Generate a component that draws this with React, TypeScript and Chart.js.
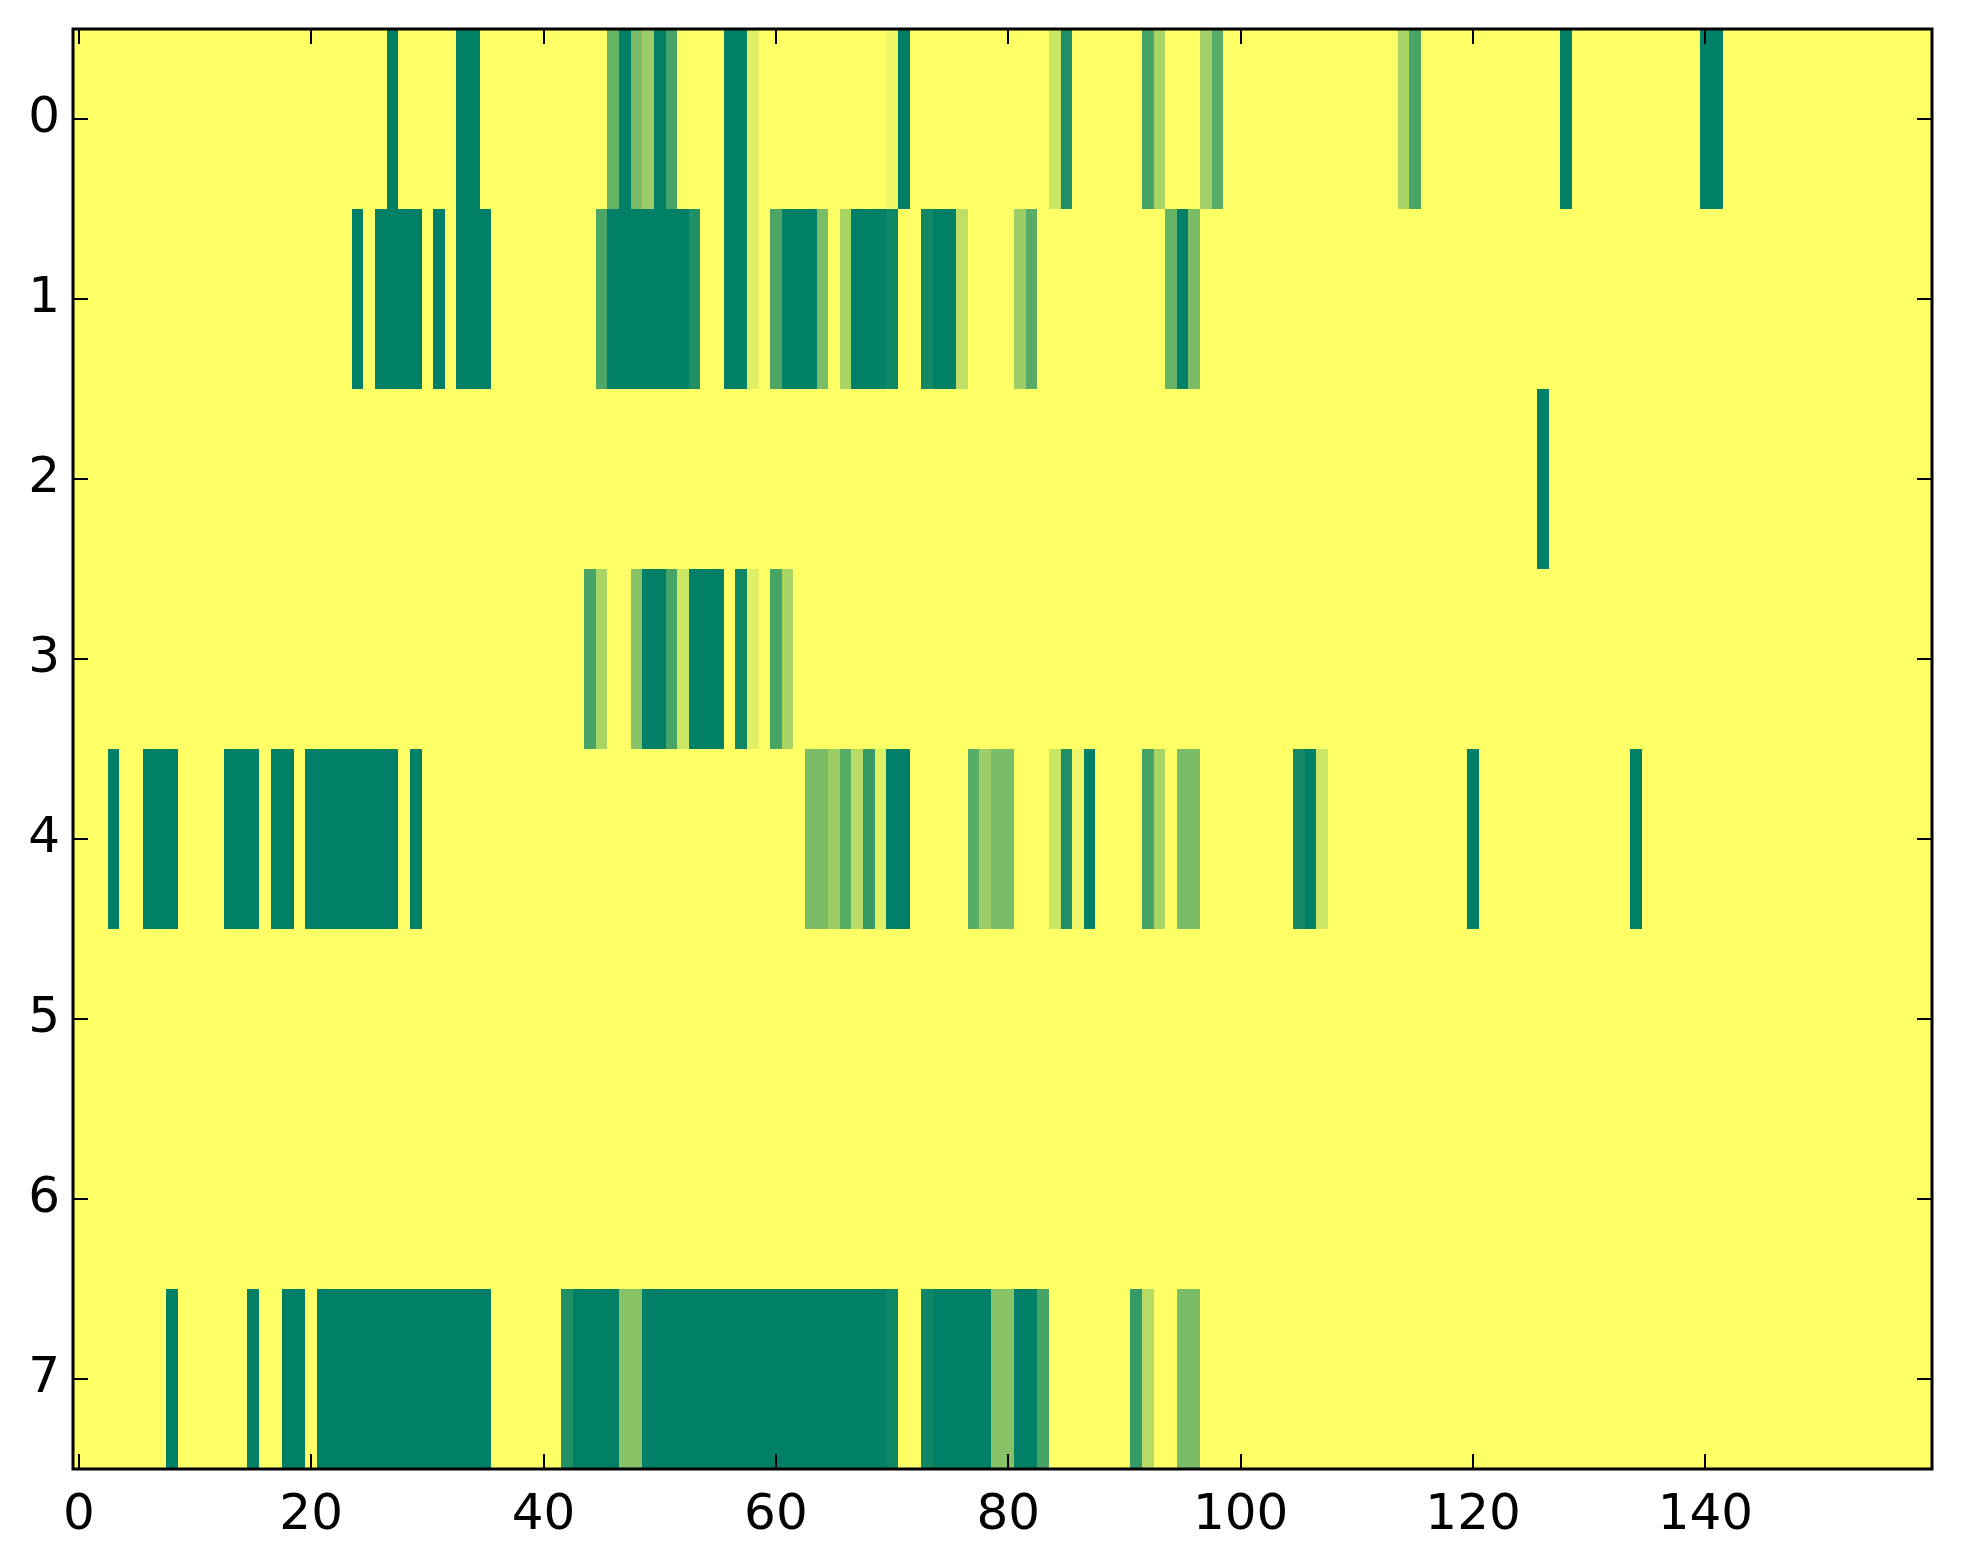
import React, { useEffect, useRef } from "react";
import { Chart, registerables } from "chart.js";

Chart.register(...registerables);

// ---- data ----
const columnCount = 160;
const rowLabels = [0, 1, 2, 3, 4, 5, 6, 7];
const xTickValues = [0, 20, 40, 60, 80, 100, 120, 140];
const yTickValues = [0, 1, 2, 3, 4, 5, 6, 7];

// non-zero cells of each row: [column, value]
const row0: [number, number][] = [
  [27, 1], [33, 1], [34, 1], [46, 0.6], [47, 1], [48, 0.52], [49, 0.39], [50, 1], [51, 0.72],
  [56, 1], [57, 1], [58, 0.12], [70, 0.06], [71, 1], [84, 0.2], [85, 0.87], [92, 0.72], [93, 0.34],
  [97, 0.37], [98, 0.65], [114, 0.34], [115, 0.72], [128, 1], [140, 1], [141, 1],
];
const row1: [number, number][] = [
  [24, 1], [26, 1], [27, 1], [28, 1], [29, 1], [31, 1], [33, 1], [34, 1], [35, 1],
  [45, 0.7], [46, 1], [47, 1], [48, 1], [49, 1], [50, 1], [51, 1], [52, 1], [53, 0.87],
  [56, 1], [57, 1], [58, 0.12], [60, 0.7], [61, 1], [62, 1], [63, 1], [64, 0.52],
  [66, 0.34], [67, 1], [68, 1], [69, 1], [70, 0.94], [73, 0.93], [74, 1], [75, 1], [76, 0.25],
  [81, 0.39], [82, 0.65], [94, 0.6], [95, 1], [96, 0.52],
];
const row2: [number, number][] = [[126, 1]];
const row3: [number, number][] = [
  [44, 0.72], [45, 0.34], [48, 0.47], [49, 1], [50, 1], [51, 0.72], [52, 0.2], [53, 1], [54, 1],
  [55, 1], [57, 0.94], [58, 0.12], [60, 0.72], [61, 0.34],
];
const row4: [number, number][] = [
  [3, 1], [6, 1], [7, 1], [8, 1], [13, 1], [14, 1], [15, 1], [17, 1], [18, 1],
  [20, 1], [21, 1], [22, 1], [23, 1], [24, 1], [25, 1], [26, 1], [27, 1], [29, 1],
  [63, 0.52], [64, 0.52], [65, 0.39], [66, 0.65], [67, 0.28], [68, 0.79], [69, 0.12], [70, 1], [71, 1],
  [77, 0.65], [78, 0.39], [79, 0.52], [80, 0.52], [84, 0.2], [85, 0.87], [86, 0.07], [87, 1],
  [92, 0.72], [93, 0.34], [95, 0.52], [96, 0.52], [105, 0.93], [106, 1], [107, 0.2], [120, 1], [134, 1],
];
const row5: [number, number][] = [];
const row6: [number, number][] = [];
const row7: [number, number][] = [
  [8, 1], [15, 1], [18, 1], [19, 1],
  [21, 1], [22, 1], [23, 1], [24, 1], [25, 1], [26, 1], [27, 1], [28, 1], [29, 1], [30, 1],
  [31, 1], [32, 1], [33, 1], [34, 1], [35, 1],
  [42, 0.87], [43, 1], [44, 1], [45, 1], [46, 1], [47, 0.47], [48, 0.47],
  [49, 1], [50, 1], [51, 1], [52, 1], [53, 1], [54, 1], [55, 1], [56, 1], [57, 1], [58, 1],
  [59, 1], [60, 1], [61, 1], [62, 1], [63, 1], [64, 1], [65, 1], [66, 1], [67, 1], [68, 1], [69, 1],
  [70, 0.94], [73, 0.94], [74, 1], [75, 1], [76, 1], [77, 1], [78, 1], [79, 0.47], [80, 0.47],
  [81, 1], [82, 1], [83, 0.72], [91, 0.79], [92, 0.28], [95, 0.52], [96, 0.52],
];
const rowCells = [row0, row1, row2, row3, row4, row5, row6, row7];

// matplotlib "summer_r" colormap
function summerR(v: number): string {
  const t = 1 - Math.max(0, Math.min(1, v));
  const r = Math.round(t * 255);
  const g = Math.round((0.5 + 0.5 * t) * 255);
  const b = Math.round(0.4 * 255);
  return `rgb(${r},${g},${b})`;
}

function buildPoints() {
  const pts: { x: number; y: number; v: number }[] = [];
  rowLabels.forEach((row, ri) => {
    const lookup = new Map<number, number>(rowCells[ri]);
    for (let c = 0; c < columnCount; c++) {
      pts.push({ x: c, y: row, v: lookup.get(c) ?? 0 });
    }
  });
  return pts;
}

const heatmapPlugin = {
  id: "heatmapCells",
  beforeDatasetsDraw(chart: any) {
    const ctx = chart.ctx;
    const xs = chart.scales.x;
    const ys = chart.scales.y;
    const data = chart.data.datasets[0].data as any[];
    ctx.save();
    for (const p of data) {
      const l = Math.round(xs.getPixelForValue(p.x - 0.5));
      const r = Math.round(xs.getPixelForValue(p.x + 0.5));
      const t = Math.round(ys.getPixelForValue(p.y - 0.5));
      const b = Math.round(ys.getPixelForValue(p.y + 0.5));
      ctx.fillStyle = summerR(p.v);
      ctx.fillRect(Math.min(l, r), Math.min(t, b), Math.abs(r - l), Math.abs(b - t));
    }
    ctx.restore();
  },
  afterDatasetsDraw(chart: any) {
    const ctx = chart.ctx;
    const a = chart.chartArea;
    const xs = chart.scales.x;
    const ys = chart.scales.y;
    const tickLen = 15;
    ctx.save();
    ctx.strokeStyle = "#000";
    ctx.lineWidth = 2;
    ctx.beginPath();
    for (const t of xs.ticks) {
      const px = Math.round(xs.getPixelForValue(t.value));
      ctx.moveTo(px, a.bottom);
      ctx.lineTo(px, a.bottom - tickLen);
      ctx.moveTo(px, a.top);
      ctx.lineTo(px, a.top + tickLen);
    }
    for (const t of ys.ticks) {
      const py = Math.round(ys.getPixelForValue(t.value));
      ctx.moveTo(a.left, py);
      ctx.lineTo(a.left + tickLen, py);
      ctx.moveTo(a.right, py);
      ctx.lineTo(a.right - tickLen, py);
    }
    ctx.stroke();
    ctx.lineWidth = 3;
    ctx.strokeRect(a.left, a.top, a.right - a.left, a.bottom - a.top);
    ctx.restore();
  },
};

export default function App() {
  const canvasRef = useRef<HTMLCanvasElement | null>(null);

  useEffect(() => {
    if (!canvasRef.current) return;
    const font = { family: "'DejaVu Sans', sans-serif", size: 50 };
    const chart = new Chart(canvasRef.current, {
      type: "scatter",
      data: {
        datasets: [
          {
            data: buildPoints(),
            pointRadius: 0,
            pointHoverRadius: 0,
            showLine: false,
          } as any,
        ],
      },
      options: {
        animation: false,
        responsive: false,
        devicePixelRatio: 1,
        events: [],
        layout: { padding: { left: 0, top: 29, right: 31, bottom: 0 } },
        plugins: { legend: { display: false }, tooltip: { enabled: false } },
        scales: {
          x: {
            type: "linear",
            min: -0.5,
            max: columnCount - 0.5,
            grid: { display: false, drawTicks: false },
            border: { display: false },
            ticks: {
              font,
              color: "#000",
              padding: 17,
              autoSkip: false,
              maxRotation: 0,
              callback: (v: any) => String(v),
            },
            afterBuildTicks: (scale: any) => {
              scale.ticks = xTickValues.map((value) => ({ value }));
            },
            afterFit: (scale: any) => {
              scale.height = 95;
              scale.paddingLeft = 0;
              scale.paddingRight = 0;
              scale.paddingTop = 0;
              scale.paddingBottom = 0;
            },
          },
          y: {
            type: "linear",
            reverse: true,
            min: -0.5,
            max: rowLabels.length - 0.5,
            grid: { display: false, drawTicks: false },
            border: { display: false },
            ticks: {
              font,
              color: "#000",
              padding: 13,
              autoSkip: false,
              callback: (v: any) => String(v),
            },
            afterBuildTicks: (scale: any) => {
              scale.ticks = yTickValues.map((value) => ({ value }));
            },
            afterFit: (scale: any) => {
              scale.width = 73;
              scale.paddingLeft = 0;
              scale.paddingRight = 0;
              scale.paddingTop = 0;
              scale.paddingBottom = 0;
            },
          },
        },
      } as any,
      plugins: [heatmapPlugin],
    });
    return () => chart.destroy();
  }, []);

  return (
    <div style={{ position: "absolute", left: 0, top: 0, width: 1963, height: 1564, background: "#fff" }}>
      <canvas ref={canvasRef} width={1963} height={1564} style={{ width: 1963, height: 1564, display: "block" }} />
    </div>
  );
}
